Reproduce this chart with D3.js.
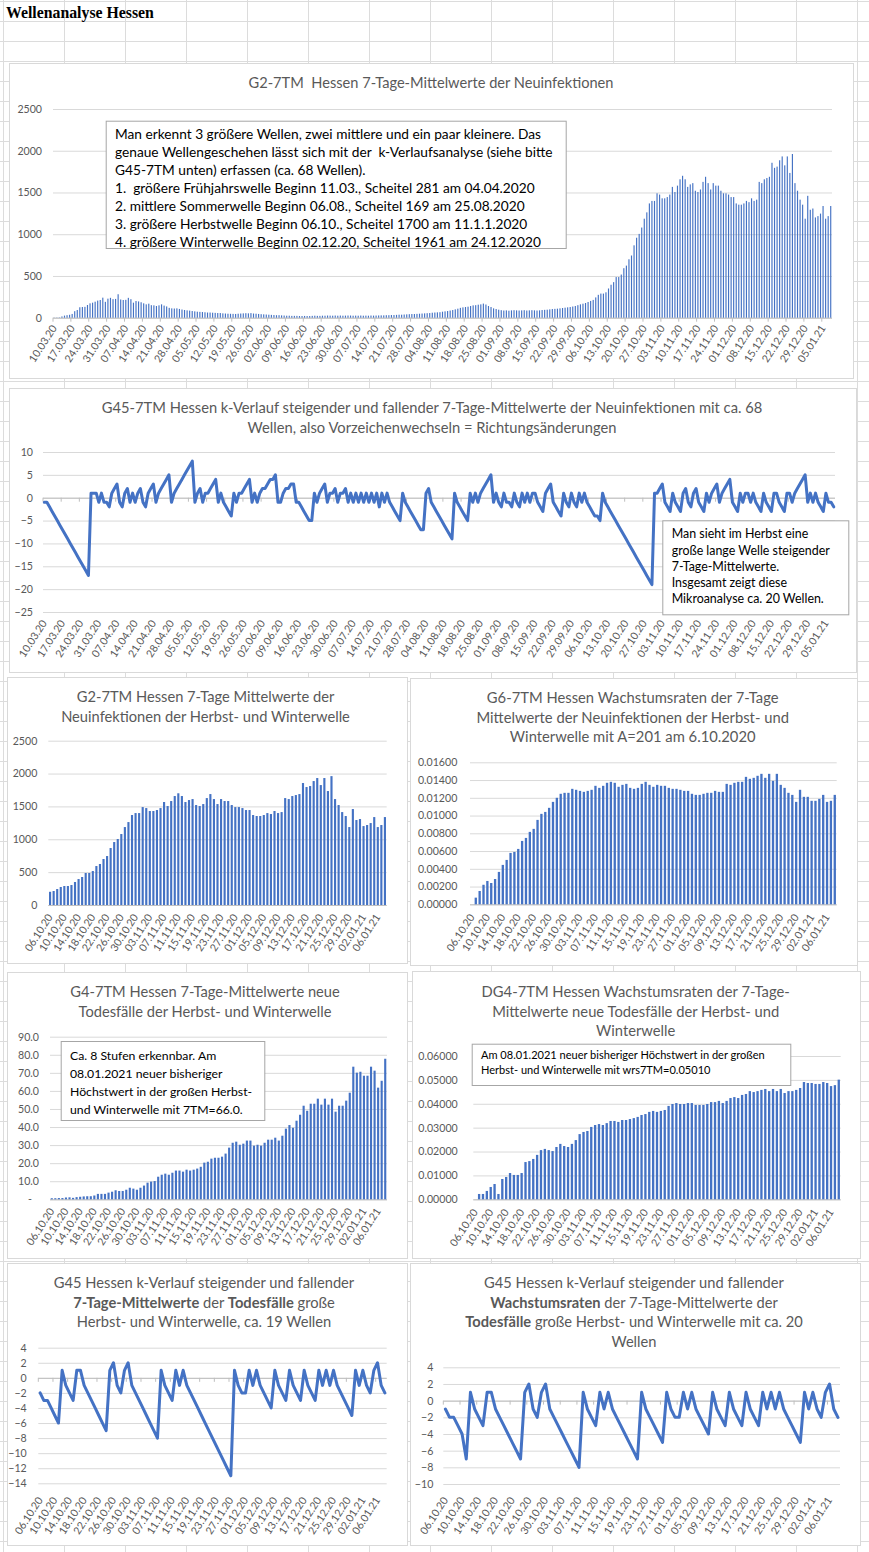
<!DOCTYPE html>
<html><head><meta charset="utf-8">
<script src="https://cdn.jsdelivr.net/npm/d3@7"></script>
<style>body{margin:0;background:#fff}svg{display:block}</style>
</head><body>
<script>
// ---------------- DATA ----------------
// 7-day means of new infections, 10.03.20 - 05.10.20
const infMar = [2,3,4,15,25,30,35,45,78,92,125,128,130,152,172,180,192,205,212,240,190,228];
const infApr = [238,222,225,281,218,212,214,238,222,180,200,195,185,172,160,168,150,148,140,148,160,145,135,118,112,110,112,105,98,92];
const infMay = [88,85,80,76,72,70,68,65,62,62,60,58,56,56,52,50,48,47,46,45,48,50,52,54,52,55,50,48,45,42,40];
const infJun = [38,36,34,32,30,30,28,26,24,24,22,22,22,20,20,21,20,20,22,24,22,22,24,24,26,25,24,26,24,26];
const infJul = [24,25,26,26,24,25,24,26,24,25,24,26,25,26,27,28,28,30,30,32,32,34,36,36,38,40,42,44,44,46,48];
const infAug = [50,52,54,56,60,62,64,66,72,76,80,86,92,100,108,118,124,128,132,140,148,150,156,160,169,158,140,128,112,104,96];
const infSep = [90,86,88,84,88,90,88,86,88,90,86,88,90,88,86,88,92,94,96,100,104,106,108,112,116,120,124,128,134,140];
const infOctStart = [150,160,168,176,188];
// 7-day means of new infections, 06.10.20 - 08.01.21 (autumn/winter wave)
const infAutumn = [201,213,243,274,289,289,304,350,395,426,487,487,517,593,624,700,745,867,958,1004,
  1080,1186,1262,1369,1399,1399,1490,1475,1430,1430,1445,1475,1567,1506,1582,1658,1700,1658,1567,1597,
  1612,1521,1506,1536,1627,1688,1612,1536,1612,1582,1582,1521,1490,1490,1475,1445,1445,1369,1354,1354,
  1369,1399,1384,1430,1399,1414,1627,1612,1658,1673,1688,1856,1795,1810,1886,1932,1825,1932,1734,1961,
  1612,1521,1414,1354,1186,1460,1293,1308,1201,1217,1247,1338,1186,1217,1338];
// k-course of the 7-day means (G45-7TM), 10.03.20 - 08.01.21
const kInfections = [
  -1,-1,-2,-3,-4,-5,-6,-7,-8,-9,-10,-11,-12,-13,-14,-15,-16,-17,
  1,1,1,-1,1,-1,-1,-2,1,2,3,-1,-2,1,2,-1,1,-1,1,2,-1,-2,1,2,3,-1,1,2,3,4,5,-1,1,2,3,4,5,6,7,8,
  -1,1,2,-1,1,1,2,3,4,-1,1,-1,-2,-3,-4,1,-1,1,1,2,3,4,-1,1,-1,1,2,2,3,4,4,5,-1,-1,1,2,2,3,3,
  -1,-1,-2,-3,-4,-5,-5,1,-1,1,2,3,-1,1,1,2,-1,1,1,2,
  -1,1,-1,1,-1,1,-1,1,-1,1,-1,1,-2,1,-1,1,
  -1,-2,-3,-4,-5,1,-1,-2,-3,-4,-5,-6,-7,-7,1,2,-1,-2,-3,-4,-5,-6,-7,-8,-9,
  1,-1,-2,-3,-4,-5,1,-1,1,-1,1,2,3,4,5,
  -1,1,-1,-2,1,-1,-1,-2,1,-1,-2,1,-1,1,-1,1,1,-1,-2,-3,1,2,3,-1,-2,-3,-4,1,-1,-2,1,-1,-2,1,-1,1,-1,-2,-3,-4,-4,-5,1,
  -1,-2,-3,-4,-5,-6,-7,-8,-9,-10,-11,-12,-13,-14,-15,-16,-17,-18,-19,
  1,1,2,3,-1,-2,-3,1,-1,-2,-3,1,2,-1,-2,1,2,-1,-2,-3,1,-1,1,2,3,-1,1,2,3,4,-1,-2,-3,1,-1,1,1,-1,1,-1,-2,-3,
  1,-1,-2,-3,1,1,-1,-2,-3,1,1,-1,1,2,3,4,5,-1,1,-1,1,-1,-2,-3,1,-1,-1,-2];
// growth rates of the 7-day means (G6-7TM), 06.10.20 - 08.01.21
const growthInfections = [0,0.00075,0.0015,0.0022,0.00263,0.0024,0.00285,0.00365,0.00444,0.005,
  0.00579,0.0059,0.00624,0.00714,0.00748,0.00816,0.0085,0.00951,0.01019,0.01041,
  0.01087,0.01154,0.012,0.01245,0.01256,0.01256,0.01301,0.0129,0.01278,0.01267,
  0.01278,0.0129,0.01335,0.01312,0.01335,0.01369,0.0138,0.01369,0.01324,0.01346,
  0.01357,0.01312,0.01301,0.01312,0.01357,0.0138,0.01346,0.01324,0.01346,0.01335,
  0.01335,0.01312,0.01301,0.01301,0.0129,0.01278,0.01278,0.01245,0.01233,0.01233,
  0.01245,0.01256,0.01256,0.01278,0.01267,0.01267,0.01357,0.01346,0.01369,0.0138,
  0.0138,0.01436,0.01414,0.01425,0.01448,0.0147,0.01425,0.0147,0.01391,0.0147,
  0.01346,0.01312,0.01256,0.01233,0.01154,0.0129,0.01211,0.01211,0.01166,0.01166,
  0.01188,0.01233,0.01154,0.01166,0.01233];
// 7-day means of new deaths (G4-7TM), 06.10.20 - 08.01.21
const deaths7TM = [0.6,0.6,0.7,0.7,1.0,1.1,0.8,1.2,1.4,1.6,1.7,1.7,2.1,
  3.0,3.0,3.0,3.7,4.2,5.0,4.6,4.6,5.3,6.4,5.9,5.3,6.4,7.6,9.2,9.8,10.1,12.5,13.6,14.2,
  13.6,14.7,15.9,15.9,15.3,16.4,15.9,16.4,17.0,18.0,20.3,20.8,22.5,23.0,23.0,23.6,25.3,28.6,31.3,31.9,
  30.2,30.8,32.5,32.5,29.7,30.2,29.7,31.3,33.0,33.0,34.1,32.5,35.2,39.1,41.1,39.6,43.5,46.8,51.8,49.0,
  52.9,52.9,55.7,52.4,55.7,52.4,55.7,48.5,51.8,51.8,54.6,59.0,73.4,70.1,70.6,68.4,68.4,73.4,71.2,61.8,
  65.6,77.8];
// growth rates of the 7-day means of deaths (DG4-7TM)
const growthDeaths = [0,0.00223,0.00223,0.0035,0.00516,0.0064,0.00223,0.0085,0.00935,0.011,
  0.0102,0.0102,0.011,0.0156,0.016,0.0169,0.0186,0.0206,0.0211,0.0206,
  0.0202,0.0219,0.0232,0.0223,0.0219,0.0232,0.0248,0.0273,0.0282,0.0286,
  0.0303,0.0311,0.0315,0.0311,0.0319,0.0328,0.0328,0.0324,0.0332,0.0332,
  0.0336,0.034,0.0345,0.0353,0.0357,0.0366,0.037,0.0366,0.037,0.0374,
  0.0391,0.0399,0.0403,0.0399,0.0399,0.0403,0.0403,0.0395,0.0395,0.0395,
  0.0399,0.0407,0.0407,0.0412,0.0403,0.0412,0.0424,0.0428,0.0424,0.0437,
  0.0441,0.0453,0.0449,0.0453,0.0458,0.0462,0.0453,0.0462,0.0453,0.0462,
  0.0445,0.0453,0.0453,0.0458,0.0466,0.0491,0.0487,0.0487,0.0483,0.0483,
  0.0491,0.0487,0.0474,0.0478,0.0501];
// k-course of deaths 7TM (G45)
const kDeaths = [-2,-3,-3,-4,-5,-6, 1,-1,-2,-3, 1,1,-1,-2,-3,-4,-5,-6,-7, 1,2,-1,-2,1,2,
  -1,-2,-3,-4,-5,-6,-7,-8, 1,-1,-2,-3, 1,-1, 1,-1,-2,-3,-4,-5,-6,-7,-8,-9,-10,-11,-12,-13,
  1,-1,-2,-2, 1,-1, 1,-1,-2,-3,-4, 1,-1,-2,-3, 1,-1,-2,-3, 1,-1,-2,-3, 1,-1, 1,-1,
  1,-1,-2,-3,-4,-5, 1,-1, 1,-1,-2, 1,2,-1,-2];
// k-course of growth rates of deaths (G45)
const kGrowthDeaths = [-1,-2,-2,-3,-4,-7,1, -1,-2,-3, 1,1,-1,-2,-3,-4,-5,-6,-7, 1,2,-1,-2,1,2,
  -1,-2,-3,-4,-5,-6,-7,-8, 1,-1,-2,-3, 1,-1, 1,-1,-2,-3,-4,-5,-6,-7, 1,-1,-2,-3,-4,-5,
  1,-1,-2,-2, 1,-1, 1,-1,-2,-3,-4, 1,-1,-2,-3, 1,-1,-2,-3, 1,-1,-2,-3, 1,-1, 1,-1,
  1,-1,-2,-3,-4,-5, 1,-1, 1,-1,-2, 1,2,-1,-2];
// tick labels
const ticksYear = ["10.03.20","17.03.20","24.03.20","31.03.20","07.04.20","14.04.20","21.04.20","28.04.20","05.05.20","12.05.20","19.05.20","26.05.20","02.06.20","09.06.20","16.06.20","23.06.20","30.06.20","07.07.20","14.07.20","21.07.20","28.07.20","04.08.20","11.08.20","18.08.20","25.08.20","01.09.20","08.09.20","15.09.20","22.09.20","29.09.20","06.10.20","13.10.20","20.10.20","27.10.20","03.11.20","10.11.20","17.11.20","24.11.20","01.12.20","08.12.20","15.12.20","22.12.20","29.12.20","05.01.21"];
const ticksAutumn = ["06.10.20","10.10.20","14.10.20","18.10.20","22.10.20","26.10.20","30.10.20","03.11.20","07.11.20","11.11.20","15.11.20","19.11.20","23.11.20","27.11.20","01.12.20","05.12.20","09.12.20","13.12.20","17.12.20","21.12.20","25.12.20","29.12.20","02.01.21","06.01.21"];
const yTicksInf = [0,500,1000,1500,2000,2500];
const yTicksK = [-25,-20,-15,-10,-5,0,5,10];
const yTicksGrowth = [0,0.002,0.004,0.006,0.008,0.01,0.012,0.014,0.016];
const yTicksDeaths = [0,10,20,30,40,50,60,70,80,90];
const yTicksGrowthD = [0,0.01,0.02,0.03,0.04,0.05,0.06];
const yTicksKD = [-14,-12,-10,-8,-6,-4,-2,0,2,4];
const yTicksKGD = [-10,-8,-6,-4,-2,0,2,4];

const fmtDay = d3.timeFormat("%d.%m.%y");
const daysYear = d3.timeDay.range(new Date(2020,2,10), new Date(2021,0,9)).map(fmtDay);
const daysAutumn = d3.timeDay.range(new Date(2020,9,6), new Date(2021,0,9)).map(fmtDay);
const infYear = [].concat(infMar, infApr, infMay, infJun, infJul, infAug, infSep, infOctStart, infAutumn);

// ---------------- DRAWING ----------------
const BLUE = '#4472C4', GRID = '#d9d9d9', TXT = '#595959', FONT = 'Lato, "Open Sans", sans-serif';
const svg = d3.select('body').append('svg').attr('width',869).attr('height',1552);
const meas = svg.append('text').attr('x',-2000).attr('y',-2000);
function textW(str,size,weight,family){ meas.attr('font-family',family||FONT).attr('font-size',size).attr('font-weight',weight||'normal').style('white-space','pre').text(str); return meas.node().getComputedTextLength(); }
function fit(str,target,weight,family){ return 20*target/textW(str.replace(/\*\*/g,''),20,weight,family); }

// spreadsheet grid
const sheet = svg.append('g').attr('stroke','#dcdcdc').attr('stroke-width',1);
for (let x=3.5; x<869; x+=61) sheet.append('line').attr('x1',x).attr('x2',x).attr('y1',0).attr('y2',1552);
for (let y=1.5; y<1552; y+=20) sheet.append('line').attr('x1',0).attr('x2',869).attr('y1',y).attr('y2',y);

svg.append('text').attr('x',6).attr('y',12.5).attr('dy','0.35em')
  .attr('font-family','"Liberation Serif","Times New Roman",serif').attr('font-weight','bold')
  .attr('font-size',fit('Wellenanalyse Hessen',148,'bold','"Liberation Serif",serif')).attr('fill','#000')
  .text('Wellenanalyse Hessen');

function drawLines(lines, x, ys, size, anchor, fill){
  lines.forEach((ln,i)=>{
    const t = svg.append('text').attr('x',x).attr('y',ys[i]).attr('dy','0.35em').attr('font-size',size)
      .attr('font-family',FONT).attr('fill',fill).attr('text-anchor',anchor).style('white-space','pre');
    ln.split('**').forEach((s,j)=>{ if(s.length) t.append('tspan').attr('font-weight', j%2 ? 'bold':'normal').text(s); });
  });
}

function drawChart(c){
  const [fx0,fy0,fx1,fy1] = c.frame;
  svg.append('rect').attr('x',fx0+.5).attr('y',fy0+.5).attr('width',fx1-fx0).attr('height',fy1-fy0)
    .attr('fill','#fff').attr('stroke','#d9d9d9');
  const ts = fit(c.title[c.fitIdx], c.fitW);
  drawLines(c.title, c.cx, c.titleYs, ts, 'middle', TXT);
  const [pl,pt,pr,pb] = c.plot;
  const x = d3.scaleBand().domain(c.cats).range([pl,pr]);
  const y = d3.scaleLinear().domain([c.yTicks[0], c.yTicks[c.yTicks.length-1]]).range([pb,pt]);
  const bw = x.bandwidth();
  const gy = svg.append('g').attr('transform',`translate(${pl},0)`)
    .call(d3.axisLeft(y).tickValues(c.yTicks).tickSize(-(pr-pl)).tickPadding(c.yPad).tickFormat(c.yFmt));
  gy.attr('font-family',FONT).attr('font-size',c.yFont||10.6);
  gy.select('.domain').remove();
  gy.selectAll('line').attr('stroke',GRID);
  gy.selectAll('text').attr('fill',TXT);
  if (c.zeroShift) gy.selectAll('text').filter(d=>d===0).attr('dx',c.zeroShift);
  const y0 = y(0);
  svg.append('line').attr('x1',pl).attr('x2',pr).attr('y1',y0+.5).attr('y2',y0+.5).attr('stroke','#bfbfbf');
  if (c.tickEvery){
    const tks = d3.range(0, c.cats.length+1, c.tickEvery);
    svg.selectAll(null).data(tks).join('line').attr('x1',k=>pl+k*bw).attr('x2',k=>pl+k*bw)
      .attr('y1',y0).attr('y2',y0+4).attr('stroke','#bfbfbf');
  }
  if (c.type==='bar'){
    const w = bw*c.barRatio;
    svg.append('g').selectAll('rect').data(c.values).join('rect')
      .attr('x',(d,i)=>x(c.cats[i])+(bw-w)/2).attr('width',w)
      .attr('y',d=>y(d)).attr('height',d=>Math.max(0,y0-y(d))).attr('fill',BLUE);
  } else {
    const line = d3.line().x((d,i)=>x(c.cats[i])+bw/2).y(d=>y(d));
    svg.append('path').datum(c.values).attr('d',line).attr('fill','none').attr('stroke',BLUE)
      .attr('stroke-width',3).attr('stroke-linejoin','round').attr('stroke-linecap','round');
  }
  const gx = svg.append('g').attr('transform',`translate(0,${c.xLabY})`)
    .call(d3.axisBottom(x).tickValues(c.xTicks).tickSize(0).tickPadding(0));
  gx.attr('font-family',FONT).attr('font-size',c.xFont||10.6);
  gx.select('.domain').remove();
  gx.selectAll('text').attr('fill',TXT).attr('y',0).attr('dy','0.35em').attr('text-anchor','end')
    .attr('transform',`rotate(${-c.angle})`);
  if (c.box){
    const b = c.box;
    svg.append('rect').attr('x',b.rect[0]+.5).attr('y',b.rect[1]+.5).attr('width',b.rect[2]-b.rect[0])
      .attr('height',b.rect[3]-b.rect[1]).attr('fill','#fff').attr('stroke','#a6a6a6');
    const bs = fit(b.lines[b.fitIdx], b.fitW);
    drawLines(b.lines, b.x, b.lines.map((l,i)=>b.y0+i*b.dy), bs, 'start', '#000');
  }
}

const ANG = 57;
drawChart({ frame:[9,63,853,378], title:['G2-7TM  Hessen 7-Tage-Mittelwerte der Neuinfektionen'], titleYs:[83], cx:431,
  fitIdx:0, fitW:365, plot:[53,109,832,317.7], yTicks:yTicksInf, yFmt:d3.format('d'), yPad:11,
  type:'bar', barRatio:0.45, cats:daysYear, values:infYear, xTicks:ticksYear, xLabY:326, angle:ANG, tickEvery:7,
  box:{ rect:[105.7,120.7,565.7,248], x:115, y0:134.5, dy:17.9, fitIdx:1, fitW:438,
    lines:['Man erkennt 3 größere Wellen, zwei mittlere und ein paar kleinere. Das',
      'genaue Wellengeschehen lässt sich mit der  k-Verlaufsanalyse (siehe bitte',
      'G45-7TM unten) erfassen (ca. 68 Wellen).',
      '1.  größere Frühjahrswelle Beginn 11.03., Scheitel 281 am 04.04.2020',
      '2. mittlere Sommerwelle Beginn 06.08., Scheitel 169 am 25.08.2020',
      '3. größere Herbstwelle Beginn 06.10., Scheitel 1700 am 11.1.1.2020',
      '4. größere Winterwelle Beginn 02.12.20, Scheitel 1961 am 24.12.2020'] } });

drawChart({ frame:[9,388,856,672], title:['G45-7TM Hessen k-Verlauf steigender und fallender 7-Tage-Mittelwerte der Neuinfektionen mit ca. 68','Wellen, also Vorzeichenwechseln = Richtungsänderungen'],
  titleYs:[407.7,427.7], cx:432, fitIdx:0, fitW:661, plot:[43,452,835,612], yTicks:yTicksK, yFmt:d3.format('d'), yPad:10,
  type:'line', cats:daysYear, values:kInfections, xTicks:ticksYear, xLabY:621, angle:ANG, tickEvery:7,
  box:{ rect:[662.3,520.3,848.3,614.3], x:671.7, y0:534, dy:16.25, fitIdx:1, fitW:158.3,
    lines:['Man sieht im Herbst eine','große lange Welle steigender','7-Tage-Mittelwerte.','Insgesamt zeigt diese','Mikroanalyse ca. 20 Wellen.'] } });

drawChart({ frame:[7,677,407,963], title:['G2-7TM Hessen 7-Tage Mittelwerte der','Neuinfektionen der Herbst- und Winterwelle'],
  titleYs:[697,717], cx:205.5, fitIdx:1, fitW:289, plot:[48.3,740.7,386.7,905], yTicks:yTicksInf, yFmt:d3.format('d'), yPad:11,
  type:'bar', barRatio:0.6, cats:daysAutumn, values:infAutumn, xTicks:ticksAutumn, xLabY:915, angle:ANG });

drawChart({ frame:[410,678,857,965], title:['G6-7TM Hessen Wachstumsraten der 7-Tage','Mittelwerte der Neuinfektionen der Herbst- und','Winterwelle mit A=201 am 6.10.2020'],
  titleYs:[698,717.7,737], cx:632.7, fitIdx:1, fitW:312.7, plot:[470,762.3,836.7,904.3], yTicks:yTicksGrowth, yFmt:d=>d.toFixed(5), yPad:12.7,
  type:'bar', barRatio:0.6, cats:daysAutumn, values:growthInfections, xTicks:ticksAutumn, xLabY:915, angle:ANG });

drawChart({ frame:[7,972,407,1258], title:['G4-7TM Hessen 7-Tage-Mittelwerte neue','Todesfälle der Herbst- und Winterwelle'],
  titleYs:[991.7,1011.7], cx:205, fitIdx:1, fitW:253.3, plot:[50,1036.7,387,1199.3], yTicks:yTicksDeaths, yFmt:d=>d===0?'-':d.toFixed(1), yPad:11, zeroShift:-7,
  type:'bar', barRatio:0.6, cats:daysAutumn, values:deaths7TM, xTicks:ticksAutumn, xLabY:1209, angle:ANG,
  box:{ rect:[60.7,1041,264.3,1120], x:70, y0:1055.7, dy:18.1, fitIdx:2, fitW:182.3,
    lines:['Ca. 8 Stufen erkennbar. Am','08.01.2021 neuer bisheriger','Höchstwert in der großen Herbst-','und Winterwelle mit 7TM=66.0.'] } });

drawChart({ frame:[412,971,860,1258], title:['DG4-7TM Hessen Wachstumsraten der 7-Tage-','Mittelwerte neue Todesfälle der Herbst- und','Winterwelle'],
  titleYs:[992.3,1011.7,1031], cx:635.7, fitIdx:1, fitW:287, plot:[473.3,1056,840.7,1199.3], yTicks:yTicksGrowthD, yFmt:d=>d.toFixed(5), yPad:15.6,
  type:'bar', barRatio:0.6, cats:daysAutumn, values:growthDeaths, xTicks:ticksAutumn, xLabY:1210, angle:ANG,
  box:{ rect:[471.7,1043.7,790.3,1085], x:481, y0:1055, dy:15, fitIdx:0, fitW:284,
    lines:['Am 08.01.2021 neuer bisheriger Höchstwert in der großen','Herbst- und Winterwelle mit wrs7TM=0.05010'] } });

drawChart({ frame:[7,1263,407,1545], title:['G45 Hessen k-Verlauf steigender und fallender','**7-Tage-Mittelwerte** der **Todesfälle** große','Herbst- und Winterwelle, ca. 19 Wellen'],
  titleYs:[1283.3,1303.3,1322.3], cx:204, fitIdx:0, fitW:300.7, plot:[38.3,1347.7,386.7,1483.3], yTicks:yTicksKD, yFmt:d3.format('d'), yPad:11.6,
  type:'line', cats:daysAutumn, values:kDeaths, xTicks:ticksAutumn, xLabY:1498, angle:ANG, tickEvery:4 });

drawChart({ frame:[410,1263,860,1545], title:['G45 Hessen k-Verlauf steigender und fallender','**Wachstumsraten** der 7-Tage-Mittelwerte der','**Todesfälle** große Herbst- und Winterwelle mit ca. 20','Wellen'],
  titleYs:[1283.3,1302.7,1322.3,1341.7], cx:634, fitIdx:0, fitW:300, plot:[443.3,1367.3,840,1484], yTicks:yTicksKGD, yFmt:d3.format('d'), yPad:10,
  type:'line', cats:daysAutumn, values:kGrowthDeaths, xTicks:ticksAutumn, xLabY:1498, angle:ANG, tickEvery:4 });
meas.remove();
</script>
</body></html>
